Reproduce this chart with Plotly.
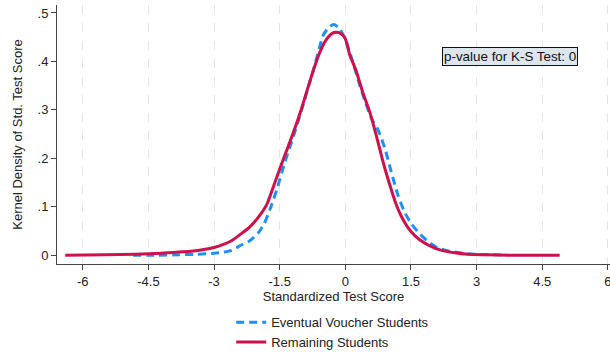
import plotly.graph_objects as go

# Eventual Voucher Students (dashed blue)
voucher_x = [-4.85, -4.3, -3.8, -3.4, -3.0, -2.8, -2.6, -2.4, -2.2, -2.0, -1.85, -1.7, -1.55, -1.4,
             -1.25, -1.1, -0.9, -0.7, -0.5, -0.38, -0.27, -0.15, 0.0, 0.15, 0.3, 0.45, 0.6, 0.75,
             0.9, 1.05, 1.2, 1.35, 1.5, 1.7, 1.9, 2.1, 2.4, 2.8, 3.3, 3.7]
voucher_y = [0.000, 0.000, 0.001, 0.002, 0.004, 0.006, 0.010, 0.020, 0.029, 0.045, 0.066, 0.100,
             0.140, 0.187, 0.228, 0.270, 0.330, 0.392, 0.455, 0.470, 0.476, 0.470, 0.446, 0.405,
             0.360, 0.318, 0.282, 0.258, 0.222, 0.172, 0.125, 0.090, 0.066, 0.044, 0.028, 0.016,
             0.008, 0.003, 0.001, 0.000]

# Remaining Students (solid red)
remain_x = [-6.4, -5.5, -4.8, -4.2, -3.7, -3.3, -3.0, -2.8, -2.6, -2.4, -2.2, -2.0, -1.8, -1.65,
            -1.5, -1.35, -1.2, -1.0, -0.8, -0.6, -0.45, -0.3, -0.2, -0.1, 0.0, 0.1, 0.25, 0.4,
            0.55, 0.7, 0.85, 1.0, 1.15, 1.3, 1.5, 1.7, 1.9, 2.2, 2.5, 2.8, 3.2, 3.8, 4.9]
remain_y = [0.000, 0.001, 0.002, 0.004, 0.007, 0.011, 0.016, 0.022, 0.030, 0.043, 0.057, 0.077,
            0.104, 0.140, 0.178, 0.214, 0.250, 0.303, 0.362, 0.415, 0.443, 0.458, 0.460, 0.457,
            0.447, 0.414, 0.380, 0.336, 0.298, 0.250, 0.197, 0.150, 0.108, 0.077, 0.049, 0.032,
            0.021, 0.010, 0.005, 0.002, 0.001, 0.000, 0.000]

x_ticks = [-6, -4.5, -3, -1.5, 0, 1.5, 3, 4.5, 6]
x_tick_labels = ["-6", "-4.5", "-3", "-1.5", "0", "1.5", "3", "4.5", "6"]
y_ticks = [0, 0.1, 0.2, 0.3, 0.4, 0.5]
y_tick_labels = ["0", ".1", ".2", ".3", ".4", ".5"]

annotation_text = "p-value for K-S Test: 0"

FONT = "Liberation Sans, Arial, Helvetica, sans-serif"
TXT = "#222"

fig = go.Figure()
fig.add_trace(go.Scatter(
    x=voucher_x, y=voucher_y, mode="lines", name="Eventual Voucher Students",
    line=dict(color="#1E8FFF", width=3, dash="8px,5px", shape="spline", smoothing=0.6),
))
fig.add_trace(go.Scatter(
    x=remain_x, y=remain_y, mode="lines", name="Remaining Students",
    line=dict(color="#D0104C", width=3, shape="spline", smoothing=0.6),
))

fig.update_layout(
    width=610, height=352,
    margin=dict(l=57, r=0, t=5, b=88, autoexpand=False),
    paper_bgcolor="white", plot_bgcolor="white",
    font=dict(family=FONT, size=13, color=TXT),
    showlegend=True,
    legend=dict(
        x=0.315, xanchor="left", y=-0.167, yanchor="top",
        font=dict(size=13, color=TXT),
        bgcolor="rgba(0,0,0,0)", tracegroupgap=0,
    ),
    xaxis=dict(
        range=[-6.59, 6.05], automargin=False, ticklabeloverflow="allow",
        tickvals=x_ticks, ticktext=x_tick_labels,
        showgrid=True, gridcolor="#e6e6e6", griddash="dash", gridwidth=1,
        zeroline=False,
        showline=True, linecolor="#444", linewidth=1,
        ticks="outside", ticklen=5, tickcolor="#444",
        tickfont=dict(size=13, color=TXT),
        title=dict(text="Standardized Test Score", font=dict(size=13, color=TXT), standoff=4),
    ),
    yaxis=dict(
        range=[-0.0181, 0.5165], automargin=False, ticklabeloverflow="allow",
        tickvals=y_ticks, ticktext=y_tick_labels,
        showgrid=False, zeroline=False,
        showline=True, linecolor="#444", linewidth=1,
        ticks="outside", ticklen=5, tickcolor="#444",
        tickfont=dict(size=13, color=TXT),
        title=dict(text="Kernel Density of Std. Test Score", font=dict(size=13, color=TXT), standoff=12),
    ),
    annotations=[dict(
        x=3.76, y=0.41, xref="x", yref="y", text=annotation_text, showarrow=False,
        font=dict(size=13.4, color="#111"),
        bgcolor="#DCE6EC", bordercolor="#111", borderwidth=1, borderpad=1,
    )],
)

fig.write_html(
    "out.html",
    config={"displayModeBar": False},
    post_script="document.body.style.margin='0';document.body.style.overflow='hidden';",
)
